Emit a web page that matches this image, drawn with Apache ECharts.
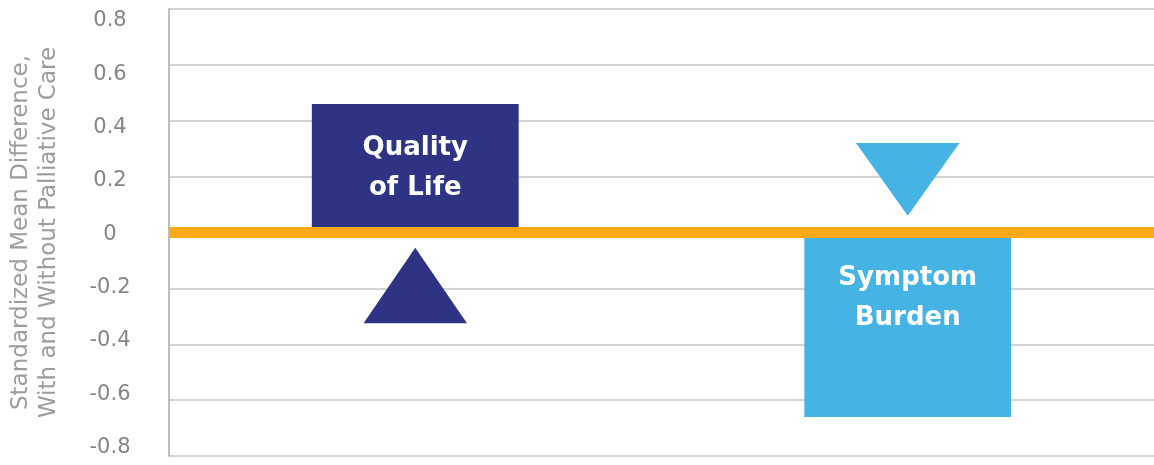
<!DOCTYPE html>
<html>
<head>
<meta charset="utf-8">
<script src="https://cdn.jsdelivr.net/npm/echarts@6/dist/echarts.min.js"></script>
<style>
html,body{margin:0;padding:0;background:#fff;}
#c{width:1154px;height:465px;}
</style>
</head>
<body>
<div id="c"></div>
<script>
const categories = ['Quality of Life', 'Symptom Burden'];
const barValues = [0.46, -0.66];
const barLabels = ['Quality\nof Life', 'Symptom\nBurden'];
const triangleBase = [-0.325, 0.32];
const triangleApex = [-0.055, 0.06];
const yTicks = [-0.8, -0.6, -0.4, -0.2, 0, 0.2, 0.4, 0.6, 0.8];
const yAxisTitle = 'Standardized Mean Difference,\nWith and Without Palliative Care';

const barColors = ['#2E3383', '#45B3E3'];
const font = '"DejaVu Sans", "Noto Sans", sans-serif';
const yMin = yTicks[0], yMax = yTicks[yTicks.length - 1];

const chart = echarts.init(document.getElementById('c'));
chart.setOption({
  animation: false,
  grid: [
    {left: 169, right: 0, top: 9, bottom: 9, containLabel: false, outerBoundsMode: 'none'},
    {left: 169, right: 0, top: 21, bottom: 17.5, containLabel: false, outerBoundsMode: 'none'}
  ],
  xAxis: [
    {
      type: 'category',
      gridIndex: 0,
      data: categories,
      z: 10,
      axisLine: {show: true, onZero: true, lineStyle: {color: '#FDAA1A', width: 11, cap: 'butt'}},
      axisTick: {show: false},
      axisLabel: {show: false},
      splitLine: {show: false}
    },
    {
      type: 'category',
      gridIndex: 1,
      data: categories,
      show: false
    }
  ],
  yAxis: [
    {
      type: 'value',
      gridIndex: 0,
      min: yMin, max: yMax, interval: 0.2,
      name: yAxisTitle,
      nameLocation: 'middle',
      nameGap: 106,
      nameRotate: 90,
      nameTextStyle: {color: '#9c9c9c', fontSize: 23, fontFamily: font, lineHeight: 28, align: 'center'},
      axisLine: {show: true, lineStyle: {color: '#a8a8a8', width: 1.5}},
      axisTick: {show: false},
      axisLabel: {show: false},
      splitLine: {show: true, lineStyle: {color: '#c4c6c8', width: 1.5}}
    },
    {
      type: 'value',
      gridIndex: 1,
      min: yMin, max: yMax, interval: 0.2,
      axisLine: {show: false},
      axisTick: {show: false},
      splitLine: {show: false},
      axisLabel: {
        color: '#858585', fontSize: 21, fontFamily: font, align: 'center', margin: 59,
        formatter: v => {
          const r = Math.round(v * 10) / 10;
          return r === 0 ? '0' : r.toFixed(1);
        }
      }
    }
  ],
  series: [
    {
      type: 'bar',
      xAxisIndex: 0, yAxisIndex: 0,
      barWidth: '42%',
      data: barValues.map((v, i) => ({
        value: v,
        itemStyle: {color: barColors[i]},
        label: {
          show: true,
          formatter: barLabels[i],
          position: v >= 0 ? 'inside' : 'insideTop',
          distance: 26,
          color: '#fff',
          fontSize: 26,
          fontWeight: 'bold',
          fontFamily: font,
          lineHeight: 40,
          align: 'center'
        }
      }))
    },
    {
      type: 'custom',
      xAxisIndex: 0, yAxisIndex: 0,
      data: categories.map((c, i) => [i, triangleBase[i], triangleApex[i]]),
      renderItem: function (params, api) {
        const i = api.value(0);
        const base = api.coord([i, api.value(1)]);
        const apex = api.coord([i, api.value(2)]);
        const w = api.size([1, 0])[0] * 0.21;
        return {
          type: 'polygon',
          shape: {points: [[base[0] - w / 2, base[1]], [base[0] + w / 2, base[1]], [apex[0], apex[1]]]},
          style: {fill: barColors[params.dataIndex]}
        };
      },
      encode: {x: 0, y: [1, 2]}
    }
  ]
});
</script>
</body>
</html>
